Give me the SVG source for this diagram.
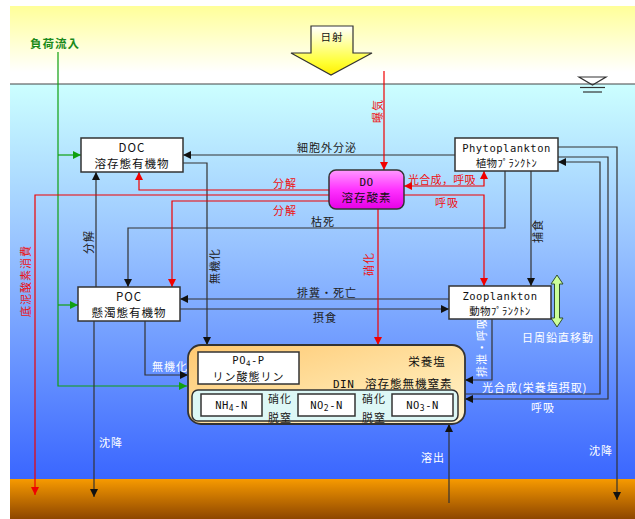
<svg xmlns="http://www.w3.org/2000/svg" width="635" height="519" viewBox="0 0 635 519">
<defs>
<linearGradient id="sky" x1="0" y1="0" x2="0" y2="1"><stop offset="0" stop-color="#FFFF99"/><stop offset="0.85" stop-color="#FFFFFF"/></linearGradient>
<linearGradient id="water" x1="0" y1="0" x2="0" y2="1"><stop offset="0" stop-color="#CCFFFF"/><stop offset="0.4" stop-color="#99C4FF"/><stop offset="1" stop-color="#3A66FF"/></linearGradient>
<linearGradient id="mud" x1="0" y1="0" x2="0" y2="1"><stop offset="0" stop-color="#F79A00"/><stop offset="1" stop-color="#8E4600"/></linearGradient>
<linearGradient id="sun" x1="0" y1="0" x2="0" y2="1"><stop offset="0" stop-color="#FFFFFF"/><stop offset="0.75" stop-color="#FFFF33"/><stop offset="1" stop-color="#FFEE00"/></linearGradient>
<linearGradient id="do" x1="0" y1="0" x2="0" y2="1"><stop offset="0" stop-color="#FF99FF"/><stop offset="0.5" stop-color="#FF33FF"/><stop offset="1" stop-color="#E600E6"/></linearGradient>
<linearGradient id="nut" x1="0" y1="0" x2="1" y2="1"><stop offset="0" stop-color="#FFC870"/><stop offset="0.6" stop-color="#FFE4A8"/><stop offset="1" stop-color="#FFF2CC"/></linearGradient>
<marker id="ak" viewBox="0 0 10 10" refX="10" refY="5" markerWidth="8" markerHeight="8" markerUnits="userSpaceOnUse" orient="auto-start-reverse"><path d="M0,0 L10,5 L0,10 z" fill="#111"/></marker>
<marker id="ar" viewBox="0 0 10 10" refX="10" refY="5" markerWidth="8" markerHeight="8" markerUnits="userSpaceOnUse" orient="auto-start-reverse"><path d="M0,0 L10,5 L0,10 z" fill="#F00000"/></marker>
<marker id="ag" viewBox="0 0 10 10" refX="10" refY="5" markerWidth="8" markerHeight="8" markerUnits="userSpaceOnUse" orient="auto-start-reverse"><path d="M0,0 L10,5 L0,10 z" fill="#10A010"/></marker>
<style>
.box{fill:#FFFFFF;stroke:#333;stroke-width:1.5}
.t{font-family:"Noto Sans CJK JP","Noto Sans",sans-serif;font-size:11.5px;fill:#111;text-anchor:middle;letter-spacing:1px}
.m{font-family:"DejaVu Sans Mono","Noto Sans CJK JP",monospace;font-size:10.5px;fill:#111;text-anchor:middle;letter-spacing:0.5px}
.l{font-family:"Noto Sans CJK JP",sans-serif;font-size:11px;fill:#222;letter-spacing:1px}
.r{font-family:"Noto Sans CJK JP",sans-serif;font-size:11px;fill:#EE1111;letter-spacing:1px}
.w{font-family:"Noto Sans CJK JP",sans-serif;font-size:11px;fill:#FFFFFF;letter-spacing:1px}
.k{fill:none;stroke:#333;stroke-width:1.2}
.rd{fill:none;stroke:#F00000;stroke-width:1.2}
.gr{fill:none;stroke:#10A010;stroke-width:1.2}
</style>
</defs>
<g id="background">
<rect x="10" y="6" width="625" height="78" fill="url(#sky)"/>
<rect x="10" y="84" width="625" height="395" fill="url(#water)"/>
<rect x="10" y="479" width="625" height="40" fill="url(#mud)"/>
<line x1="10" y1="84" x2="635" y2="84" stroke="#444" stroke-width="1.2"/>
<polygon points="579,77 606,77 592.5,85" fill="none" stroke="#333" stroke-width="1.2"/>
<line x1="580" y1="87.5" x2="605" y2="87.5" stroke="#333" stroke-width="1.2"/>
<line x1="583" y1="92" x2="602" y2="92" stroke="#333" stroke-width="1.2"/>
</g>
<g id="sunlight">
<polygon points="311,26 353,26 353,53 372,53 331,75 291,53 311,53" fill="url(#sun)" stroke="#333" stroke-width="1.2"/>
<text class="t" x="332" y="41" style="font-size:10.5px">日射</text>
</g>
<g id="load">
<text x="30" y="48" style="font-family:'Noto Sans CJK JP',sans-serif;font-size:11.5px;font-weight:bold;fill:#1A8A1A;letter-spacing:1px">負荷流入</text>
</g>
<g id="connectors">
<path class="gr" d="M58,52 V386 H187" marker-end="url(#ag)"/>
<path class="gr" d="M58,155 H81" marker-end="url(#ag)"/>
<path class="gr" d="M58,305 H78" marker-end="url(#ag)"/>
<path class="k" d="M455,155 H183" marker-end="url(#ak)"/>
<path class="k" d="M183,163 H207 V345" marker-end="url(#ak)"/>
<path class="k" d="M96,287 V172" marker-end="url(#ak)"/>
<path class="k" d="M505,171 V228 H128 V287" marker-end="url(#ak)"/>
<path class="k" d="M531,171 V286" marker-end="url(#ak)"/>
<path class="k" d="M449,299 H180" marker-end="url(#ak)"/>
<path class="k" d="M180,309 H449" marker-end="url(#ak)"/>
<path class="k" d="M145,321 V375 H188" marker-end="url(#ak)"/>
<path class="k" d="M94,321 V497" marker-end="url(#ak)"/>
<path class="k" d="M492,319 V380 H465" marker-end="url(#ak)"/>
<path class="k" d="M465,394 H600 V162 H558" marker-end="url(#ak)"/>
<path class="k" d="M558,157 H608 V399 H465" marker-end="url(#ak)"/>
<path class="k" d="M558,147 H617 V500" marker-end="url(#ak)"/>
<path class="k" d="M449,503 V424" marker-end="url(#ak)"/>
<path class="k" d="M262,406 H298" marker-start="url(#ak)" marker-end="url(#ak)"/>
<path class="k" d="M355,406 H392" marker-start="url(#ak)" marker-end="url(#ak)"/>
<path class="rd" d="M384,71 V170" marker-end="url(#ar)"/>
<path class="rd" d="M329,190 H139 V172" marker-end="url(#ar)"/>
<path class="rd" d="M329,195 H35 V495" marker-end="url(#ar)"/>
<path class="rd" d="M329,201 H172 V287" marker-end="url(#ar)"/>
<path class="rd" d="M404,186 H484 V171" marker-start="url(#ar)" marker-end="url(#ar)"/>
<path class="rd" d="M404,195 H484 V286" marker-end="url(#ar)"/>
<path class="rd" d="M378,209 V345" marker-end="url(#ar)"/>
</g>
<g id="labels">
<text class="l" x="297" y="152">細胞外分泌</text>
<text class="r" x="285" y="188" text-anchor="middle">分解</text>
<text class="r" x="285" y="215" text-anchor="middle">分解</text>
<text class="l" x="323" y="226" text-anchor="middle">枯死</text>
<text class="r" x="408" y="184" style="letter-spacing:0.3px">光合成，呼吸</text>
<text class="r" x="447" y="207" text-anchor="middle">呼吸</text>
<text class="l" x="327" y="297" text-anchor="middle">排糞・死亡</text>
<text class="l" x="325" y="322" text-anchor="middle">摂食</text>
<text class="w" x="558" y="342" text-anchor="middle">日周鉛直移動</text>
<text class="w" x="152" y="371">無機化</text>
<text class="w" x="482" y="392">光合成(栄養塩摂取)</text>
<text class="w" x="543" y="412" text-anchor="middle">呼吸</text>
<text class="w" x="99" y="447">沈降</text>
<text class="w" x="421" y="462">溶出</text>
<text class="w" x="589" y="455">沈降</text>
<text class="r" x="382" y="111" text-anchor="middle" transform="rotate(-90 382 111)">曝気</text>
<text class="l" x="93" y="242" text-anchor="middle" transform="rotate(-90 93 242)">分解</text>
<text class="l" x="219" y="266" text-anchor="middle" transform="rotate(-90 219 266)">無機化</text>
<text class="r" x="373" y="264" text-anchor="middle" transform="rotate(-90 373 264)">硝化</text>
<text class="r" x="30" y="281" text-anchor="middle" transform="rotate(-90 30 281)">底泥酸素消費</text>
<text class="l" x="542" y="231" text-anchor="middle" transform="rotate(-90 542 231)">捕食</text>
<text class="w" x="486" y="347" text-anchor="middle" transform="rotate(-90 486 347)">排泄・呼吸</text>
</g>
<g id="migration">
<polygon points="557,275 563,284 559.5,284 559.5,318 563,318 557,327 551,318 554.5,318 554.5,284 551,284" fill="#CCFF99" stroke="#2F4F2F" stroke-width="1"/>
</g>
<g id="DOC">
<rect class="box" x="81" y="138" width="102" height="34"/>
<text class="t" x="132" y="152">DOC</text>
<text class="t" x="132" y="168">溶存態有機物</text>
</g>
<g id="POC">
<rect class="box" x="78" y="287" width="102" height="34"/>
<text class="t" x="129" y="301">POC</text>
<text class="t" x="129" y="317">懸濁態有機物</text>
</g>
<g id="Phytoplankton">
<rect class="box" x="455" y="138" width="103" height="33"/>
<text class="m" x="506.5" y="152">Phytoplankton</text>
<text class="m" x="506.5" y="167">植物ﾌﾟﾗﾝｸﾄﾝ</text>
</g>
<g id="Zooplankton">
<rect class="box" x="449" y="286" width="102" height="33"/>
<text class="m" x="500" y="300">Zooplankton</text>
<text class="m" x="500" y="315">動物ﾌﾟﾗﾝｸﾄﾝ</text>
</g>
<g id="DO">
<rect x="329" y="170" width="75" height="39" rx="7" fill="url(#do)" stroke="#333" stroke-width="1.5"/>
<text class="m" x="366.5" y="186" style="font-size:11px">DO</text>
<text class="m" x="366.5" y="202" style="font-size:11.5px;letter-spacing:1px">溶存酸素</text>
</g>
<g id="nutrients">
<rect x="188" y="345" width="277" height="79" rx="13" fill="url(#nut)" stroke="#333" stroke-width="1.8"/>
<text class="t" x="427" y="366">栄養塩</text>
<text class="m" x="333" y="388" style="text-anchor:start;font-size:11px">DIN</text>
<text class="t" x="365" y="388" style="text-anchor:start">溶存態無機窒素</text>
</g>
<g id="PO4-P">
<rect class="box" x="198" y="352" width="101" height="32"/>
<text class="m" x="248.5" y="364" style="font-size:10.5px">PO<tspan font-size="7.5" dy="1.5">4</tspan><tspan dy="-1.5">-P</tspan></text>
<text class="t" x="248.5" y="381" style="font-size:11px">リン酸態リン</text>
</g>
<g id="DIN">
<rect x="192" y="390" width="266" height="31" rx="6" fill="#DDF8F6" stroke="#333" stroke-width="1.5"/>
</g>
<g id="NH4-N">
<rect class="box" x="201" y="394" width="61" height="22"/>
<text class="m" x="231.5" y="409">NH<tspan font-size="8" dy="2">4</tspan><tspan dy="-2">-N</tspan></text>
</g>
<g id="NO2-N">
<rect class="box" x="298" y="394" width="57" height="22"/>
<text class="m" x="326.5" y="409">NO<tspan font-size="8" dy="2">2</tspan><tspan dy="-2">-N</tspan></text>
</g>
<g id="NO3-N">
<rect class="box" x="392" y="394" width="61" height="22"/>
<text class="m" x="422.5" y="409">NO<tspan font-size="8" dy="2">3</tspan><tspan dy="-2">-N</tspan></text>
</g>
<g id="n-labels">
<text class="l" x="280" y="403" text-anchor="middle">硝化</text>
<text class="l" x="280" y="422" text-anchor="middle">脱窒</text>
<text class="l" x="374" y="403" text-anchor="middle">硝化</text>
<text class="l" x="374" y="422" text-anchor="middle">脱窒</text>
</g>
</svg>
